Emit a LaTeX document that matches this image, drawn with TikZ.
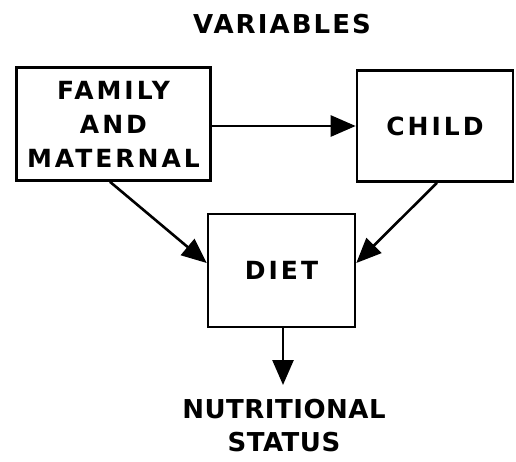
\documentclass[tikz,border=0pt]{standalone}
\usepackage{fontspec}
\newfontfamily\capsfont{DejaVu Sans}[LetterSpace=12]
\newfontfamily\headfont{DejaVu Sans}[LetterSpace=8]
\newfontfamily\footfont{DejaVu Sans}[LetterSpace=2]
\usetikzlibrary{arrows.meta}

\begin{document}
\begin{tikzpicture}
[x=1pt,y=-1pt,%
  varBox/.style={draw,line width=2.6pt,align=center,font=\capsfont\bfseries\fontsize{25}{34}\selectfont},%
  titleText/.style={align=center,inner sep=0pt,font=\headfont\bfseries\fontsize{26}{34}\selectfont},%
  statusText/.style={align=center,inner sep=0pt,font=\footfont\bfseries\fontsize{26}{33}\selectfont},%
  link/.style={line width=2.6pt,-{Triangle[width=21pt,length=25pt]}}]
\useasboundingbox (0,0) rectangle (516,461);
%% the three boxes
\node[titleText] (title) at (282,24) {VARIABLES};
\node[varBox,minimum width=194pt,minimum height=113pt] (family) at (113.5,124) {FAMILY\\AND\\MATERNAL};
\node[varBox,minimum width=156pt,minimum height=111pt] (child) at (435,126) {CHILD};
\node[varBox,minimum width=147pt,minimum height=113pt] (diet) at (281.5,270.5) {DIET};
\node[statusText] (status) at (284,426) {NUTRITIONAL\\STATUS};
\coordinate (statusTip) at (283,385);
%% the links
\draw[link] (family.east |- 0,126) -- (child.west |- 0,126);
\draw[link] (family.south -| 110,0) -- (diet.west |- 0,263);
\draw[link] (child.south -| 437,0) -- (diet.east |- 0,263);
\draw[link] (diet.south -| statusTip) -- (statusTip);
\end{tikzpicture}
\end{document}
